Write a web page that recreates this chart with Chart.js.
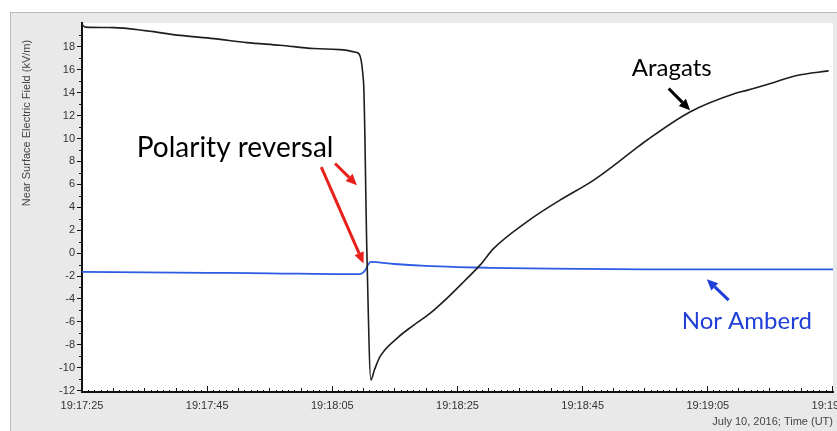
<!DOCTYPE html>
<html>
<head>
<meta charset="utf-8">
<script src="https://cdn.jsdelivr.net/npm/chart.js@4.4.1/dist/chart.umd.min.js"></script>
<style>
html,body{margin:0;padding:0;background:#fff;overflow:hidden;width:837px;height:431px}
#panel{position:absolute;left:10px;top:12px;width:900px;height:430px;background:#e9e9e9;border-top:1px solid #b8b8b8;border-left:1px solid #b8b8b8}
#c{position:absolute;left:0;top:0}
</style>
</head>
<body>
<div id="panel"></div>
<canvas id="c" width="880" height="431"></canvas>
<script>
// seconds after 19:17:25 UT
const timeTicks = ['19:17:25','19:17:45','19:18:05','19:18:25','19:18:45','19:19:05','19:19:25'];

const aragatsTime  = [0, 0.5, 5.1, 10.4, 15.7, 21.1, 26.4, 31.7, 37.1, 41.3, 44.0, 45.06, 45.6, 46.24, 46.8, 47.7, 50.4, 53.1, 55.7, 58.4, 61.1, 63.7, 65.9, 71.2, 76.5, 81.9, 88.3, 90.4, 97.3, 104.5, 106.4, 110.5, 114.4, 119.5];
const aragatsField = [19.95, 19.72, 19.68, 19.39, 19.0, 18.72, 18.37, 18.14, 17.85, 17.76, 17.5, 14.94, 0, -11.07, -10.2, -9.04, -7.44, -6.28, -5.26, -3.95, -2.5, -1.05, 0.41, 2.73, 4.62, 6.37, 8.98, 9.85, 12.32, 13.93, 14.2, 14.85, 15.5, 15.9];

const norAmberdTime  = [0, 10, 20, 30, 42, 44.5, 45.2, 46.2, 50, 55, 60, 65, 75, 90, 105, 120.2];
const norAmberdField = [-1.64, -1.68, -1.72, -1.76, -1.83, -1.83, -1.6, -0.76, -0.95, -1.12, -1.22, -1.28, -1.36, -1.42, -1.42, -1.42];

// callouts, placed in data units
const notes = [
  {text: 'Polarity reversal', t: 24.5, v: 9.16, size: 28, color: '#000'},
  {text: 'Aragats', t: 94.4, v: 16.13, size: 24, color: '#000'},
  {text: 'Nor Amberd', t: 106.4, v: -5.93, size: 24, color: '#1f3fd6'}
];
const arrows = [
  {t1: 40.5, v1: 7.82, t2: 44.0, v2: 5.93, color: '#e8211d'},
  {t1: 38.3, v1: 7.5, t2: 45.06, v2: -0.9, color: '#e8211d'},
  {t1: 93.9, v1: 14.36, t2: 97.33, v2: 12.47, color: '#000'},
  {t1: 103.5, v1: -4.1, t2: 100.0, v2: -2.29, color: '#1f3fd6'}
];

const pts = (ts, vs) => ts.map((t, i) => ({x: t, y: vs[i]}));

function drawArrow(ctx, x1, y1, x2, y2, color) {
  const head = 11, ang = Math.atan2(y2 - y1, x2 - x1);
  const bx = x2 - head * Math.cos(ang), by = y2 - head * Math.sin(ang);
  ctx.strokeStyle = color; ctx.fillStyle = color; ctx.lineWidth = 3;
  ctx.beginPath(); ctx.moveTo(x1, y1); ctx.lineTo(bx, by); ctx.stroke();
  ctx.beginPath();
  ctx.moveTo(x2, y2);
  ctx.lineTo(bx + 5 * Math.sin(ang), by - 5 * Math.cos(ang));
  ctx.lineTo(bx - 5 * Math.sin(ang), by + 5 * Math.cos(ang));
  ctx.closePath(); ctx.fill();
}

const decor = {
  id: 'decor',
  beforeDraw(chart) {
    const {ctx, chartArea: a} = chart;
    ctx.save();
    ctx.fillStyle = '#fff';
    ctx.fillRect(a.left, a.top, a.right - a.left, a.bottom - a.top);
    ctx.restore();
  },
  afterDraw(chart) {
    const {ctx, chartArea: a} = chart;
    const xs = chart.scales.x, ys = chart.scales.y;
    ctx.save();
    // minor ticks on time axis, inside
    ctx.strokeStyle = '#111'; ctx.lineWidth = 1;
    for (let t = 0; t <= 120; t++) {
      const len = t % 20 === 0 ? 6 : (t % 5 === 0 ? 4 : 2);
      const px = Math.round(xs.getPixelForValue(t)) + 0.5;
      ctx.beginPath(); ctx.moveTo(px, a.bottom); ctx.lineTo(px, a.bottom - len); ctx.stroke();
    }
    // minor ticks on field axis
    for (let v = -11; v <= 19; v += 2) {
      const py = Math.round(ys.getPixelForValue(v)) + 0.5;
      ctx.beginPath(); ctx.moveTo(a.left, py); ctx.lineTo(a.left - 3, py); ctx.stroke();
    }
    // axis titles
    ctx.fillStyle = '#444';
    ctx.font = '11px "Liberation Sans", Arial, sans-serif';
    ctx.textAlign = 'right'; ctx.textBaseline = 'middle';
    ctx.fillText('July 10, 2016; Time (UT)', 833, 422);
    ctx.save();
    ctx.translate(27, 123); ctx.rotate(-Math.PI / 2);
    ctx.textAlign = 'center';
    ctx.fillText('Near Surface Electric Field (kV/m)', 0, 0);
    ctx.restore();
    // callouts
    ctx.textAlign = 'center'; ctx.textBaseline = 'middle';
    notes.forEach(n => {
      ctx.font = n.size + 'px Lato, "Open Sans", sans-serif';
      ctx.fillStyle = n.color;
      ctx.fillText(n.text, xs.getPixelForValue(n.t), ys.getPixelForValue(n.v));
    });
    arrows.forEach(r => drawArrow(ctx,
      xs.getPixelForValue(r.t1), ys.getPixelForValue(r.v1),
      xs.getPixelForValue(r.t2), ys.getPixelForValue(r.v2), r.color));
    ctx.restore();
  }
};

const tickFont = {family: '"Liberation Sans", Arial, sans-serif', size: 11};

new Chart(document.getElementById('c'), {
  type: 'line',
  data: {
    datasets: [
      {label: 'Aragats', data: pts(aragatsTime, aragatsField), borderColor: '#1e1e1e', borderWidth: 1.6, pointRadius: 0, cubicInterpolationMode: 'monotone'},
      {label: 'Nor Amberd', data: pts(norAmberdTime, norAmberdField), borderColor: '#2d5be3', borderWidth: 1.8, pointRadius: 0, cubicInterpolationMode: 'monotone'}
    ]
  },
  options: {
    responsive: false,
    animation: false,
    events: [],
    layout: {padding: {left: 0, top: 23, right: 47, bottom: 0}},
    plugins: {legend: {display: false}, tooltip: {enabled: false}},
    scales: {
      x: {
        type: 'linear', min: 0, max: 120.2,
        afterFit(s) { s.height = 39; },
        ticks: {stepSize: 20, includeBounds: false, autoSkip: false, maxRotation: 0, padding: 7, color: '#333', font: tickFont,
          callback: v => timeTicks[Math.round(v / 20)]},
        grid: {drawOnChartArea: false, drawTicks: false},
        border: {color: '#111', width: 2}
      },
      y: {
        min: -12.12, max: 20.08,
        afterFit(s) { s.width = 82; },
        afterBuildTicks(s) { s.ticks = s.ticks.filter(t => t.value <= 18); },
        ticks: {stepSize: 2, includeBounds: false, padding: 2, color: '#333', font: tickFont},
        grid: {drawOnChartArea: false, drawTicks: true, tickLength: 5, color: '#111'},
        border: {color: '#111', width: 2}
      }
    }
  },
  plugins: [decor]
});
</script>
</body>
</html>
